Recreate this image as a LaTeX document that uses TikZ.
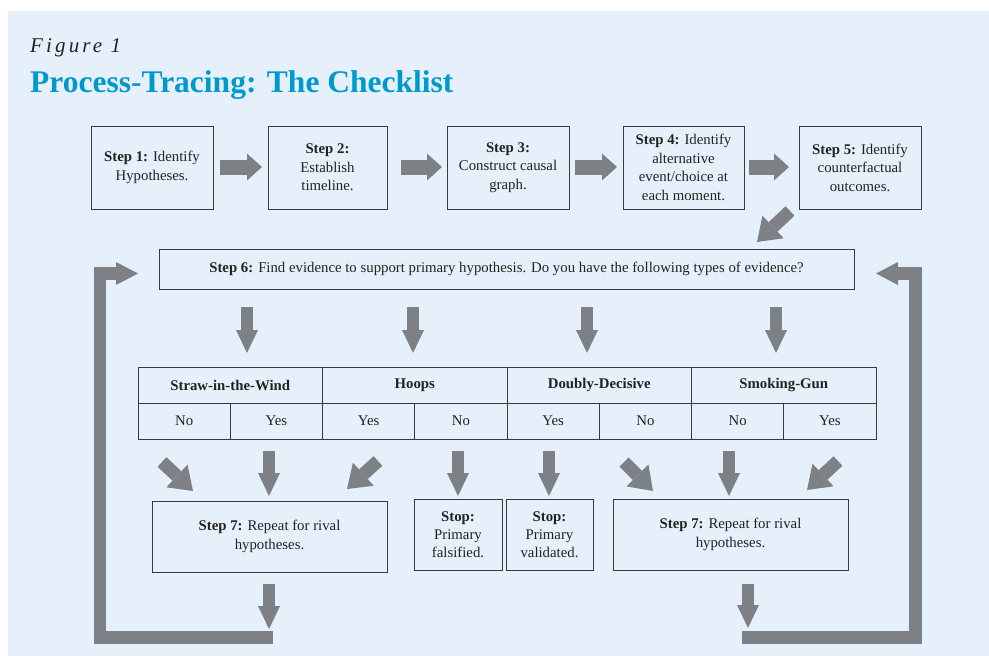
\documentclass[tikz,border=0pt]{standalone}
\usepackage{fontspec}
\setmainfont{Liberation Serif}
\newfontfamily\figfont[LetterSpace=15]{Liberation Serif}
\usetikzlibrary{arrows.meta}
\definecolor{bgblue}{RGB}{230,240,250}
\definecolor{arrgray}{RGB}{125,129,133}
\definecolor{titleblue}{RGB}{0,153,207}
\definecolor{boxline}{RGB}{58,58,58}
\definecolor{txt}{RGB}{34,34,34}
\tikzset{
  stepbox/.style={draw=boxline, line width=0.9pt, inner sep=0pt, align=center,
    text=txt, font=\fontsize{14.8}{18.5}\selectfont},
  cell/.style={draw=boxline, line width=0.9pt, inner sep=0pt, minimum height=36pt,
    text=txt, font=\fontsize{14.8}{16}\selectfont},
  hcell/.style={cell, minimum width=184.5pt, font=\fontsize{14.8}{16}\selectfont\bfseries},
  scell/.style={cell, minimum width=92.25pt},
  harr/.style={draw=arrgray, line width=15pt, -{Triangle[length=15pt,width=27pt,line width=0pt]}},
  varr/.style={draw=arrgray, line width=12pt, -{Triangle[length=23pt,width=22pt,line width=0pt]}},
  darr/.style={draw=arrgray, line width=13pt, -{Triangle[length=22pt,width=31pt,line width=0pt]}},
  larr/.style={draw=arrgray, line width=12.5pt, -{Triangle[length=22pt,width=23pt,line width=0pt]}},
}
\begin{document}
\begin{tikzpicture}[x=1pt,y=-1pt]
\useasboundingbox (0,0) rectangle (989,656);
\fill[bgblue] (8,11) rectangle (989,656);

% titles
\node[anchor=base west, inner sep=0pt, text=txt, font=\figfont\itshape\fontsize{21}{24}\selectfont] (fig) at (30,52) {Figure 1};
\node[anchor=base west, inner sep=0pt, text=titleblue, font=\bfseries\fontsize{31.5}{36}\selectfont] (title) at (30,92) {Process-Tracing: The Checklist};

% top steps
\node[stepbox, minimum width=122pt, minimum height=83pt] (s1) at (152,167.5) {\textbf{Step 1:} Identify\\Hypotheses.};
\node[stepbox, minimum width=119pt, minimum height=83pt] (s2) at (327.5,167.5) {\textbf{Step 2:}\\Establish\\timeline.};
\node[stepbox, minimum width=122pt, minimum height=83pt] (s3) at (508,167.5) {\textbf{Step 3:}\\Construct causal\\graph.};
\node[stepbox, minimum width=121pt, minimum height=83pt] (s4) at (683.5,167.5) {\textbf{Step 4:} Identify\\alternative\\event/choice at\\each moment.};
\node[stepbox, minimum width=122pt, minimum height=83pt] (s5) at (860,167.5) {\textbf{Step 5:} Identify\\counterfactual\\outcomes.};

% step 6
\node[stepbox, minimum width=695pt, minimum height=40pt] (s6) at (506.5,269) {\textbf{Step 6:} Find evidence to support primary hypothesis. Do you have the following types of evidence?};

% table
\node[hcell] (h1) at (230.25,385) {Straw-in-the-Wind};
\node[hcell] (h2) at (414.75,385) {Hoops};
\node[hcell] (h3) at (599.25,385) {Doubly-Decisive};
\node[hcell] (h4) at (783.75,385) {Smoking-Gun};
\node[scell] (c1) at (184.125,421) {No};
\node[scell] (c2) at (276.375,421) {Yes};
\node[scell] (c3) at (368.625,421) {Yes};
\node[scell] (c4) at (460.875,421) {No};
\node[scell] (c5) at (553.125,421) {Yes};
\node[scell] (c6) at (645.375,421) {No};
\node[scell] (c7) at (737.625,421) {No};
\node[scell] (c8) at (829.875,421) {Yes};

% bottom boxes
\node[stepbox, minimum width=235pt, minimum height=71pt, font=\fontsize{14.8}{19}\selectfont] (r1) at (269.5,536.5) {\textbf{Step 7:} Repeat for rival\\hypotheses.};
\node[stepbox, minimum width=88pt, minimum height=71pt, font=\fontsize{14.8}{18}\selectfont] (st1) at (458,534.5) {\textbf{Stop:}\\Primary\\falsified.};
\node[stepbox, minimum width=87pt, minimum height=71pt, font=\fontsize{14.8}{18}\selectfont] (st2) at (549.5,534.5) {\textbf{Stop:}\\Primary\\validated.};
\node[stepbox, minimum width=235pt, minimum height=71pt, font=\fontsize{14.8}{19}\selectfont] (r2) at (730.5,534.5) {\textbf{Step 7:} Repeat for rival\\hypotheses.};

% arrow end points
\coordinate (a1s) at (220,167); \coordinate (a1e) at (262,167);
\coordinate (a2s) at (401,167); \coordinate (a2e) at (442,167);
\coordinate (a3s) at (575,167); \coordinate (a3e) at (617,167);
\coordinate (a4s) at (749,167); \coordinate (a4e) at (789,167);
\coordinate (a5s) at (790,211); \coordinate (a5e) at (757,242);

\coordinate (b1s) at (247,307); \coordinate (b1e) at (247,353);
\coordinate (b2s) at (413,307); \coordinate (b2e) at (413,353);
\coordinate (b3s) at (587,307); \coordinate (b3e) at (587,353);
\coordinate (b4s) at (776,307); \coordinate (b4e) at (776,353);

\coordinate (d1s) at (162,462); \coordinate (d1e) at (193,491);
\coordinate (v1s) at (269,451); \coordinate (v1e) at (269,496);
\coordinate (d2s) at (378,461); \coordinate (d2e) at (347,489);
\coordinate (v2s) at (458,451); \coordinate (v2e) at (458,496);
\coordinate (v3s) at (549,451); \coordinate (v3e) at (549,496);
\coordinate (d3s) at (624,462); \coordinate (d3e) at (653,491);
\coordinate (v4s) at (729,451); \coordinate (v4e) at (729,496);
\coordinate (d4s) at (838,461); \coordinate (d4e) at (807,490);

\coordinate (e1s) at (269,584); \coordinate (e1e) at (269,629);
\coordinate (e2s) at (748,584); \coordinate (e2e) at (748,628);

\coordinate (lA) at (273,637.5); \coordinate (lB) at (100,637.5);
\coordinate (lC) at (100,273.5); \coordinate (lD) at (138,273.5);
\coordinate (rA) at (742,637.5); \coordinate (rB) at (915.5,637.5);
\coordinate (rC) at (915.5,273.5); \coordinate (rD) at (876,273.5);

% arrows
\foreach \n in {a1,a2,a3,a4} \draw[harr] (\n s) -- (\n e);
\draw[darr] (a5s) -- (a5e);
\foreach \n in {b1,b2,b3,b4,v1,v2,v3,v4,e1,e2} \draw[varr] (\n s) -- (\n e);
\foreach \n in {d1,d2,d3,d4} \draw[darr] (\n s) -- (\n e);
\draw[larr] (lA) -- (lB) -- (lC) -- (lD);
\draw[larr] (rA) -- (rB) -- (rC) -- (rD);
\end{tikzpicture}
\end{document}
